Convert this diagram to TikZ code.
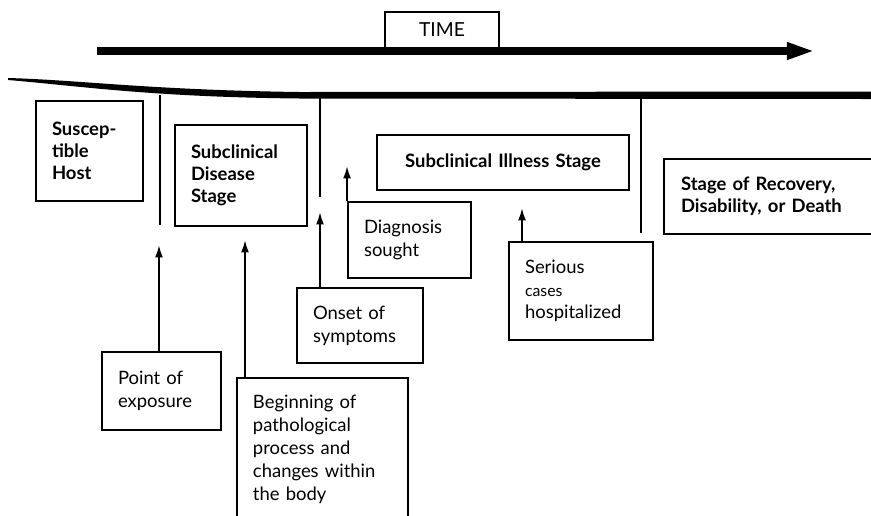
\documentclass[tikz,border=0pt]{standalone}
\usepackage{fontspec}
\setmainfont{Lato}
\usepackage{tikz}
\usetikzlibrary{arrows.meta,positioning}

\tikzset{
  stagebox/.style={draw, line width=1.2pt, align=left, inner xsep=0.32cm,
    font=\bfseries\fontsize{10.5}{12.5}\selectfont},
  eventbox/.style={draw, line width=1.1pt, align=left, inner xsep=0.32cm,
    font=\fontsize{10.5}{13}\selectfont},
  uparrow/.style={line width=1.1pt, -{Latex[length=7pt,width=4.5pt]}},
  divider/.style={line width=1.1pt}
}

\begin{document}
\begin{tikzpicture}[x=0.02cm, y=-0.02cm]
  \useasboundingbox (0,0) rectangle (871,515);

  % Time arrow and its label
  \coordinate (tstart) at (97,51);
  \coordinate (tend) at (815,51);
  \draw[line width=4.5pt, -{Triangle[length=16pt,width=9pt]}] (tstart) -- (tend);
  \node (time) at (442,29.5) [minimum width=2.28cm, minimum height=0.7cm,
    font=\fontsize{11}{13}\selectfont] {TIME};
  \draw[line width=1.1pt] (time.south west) -- (time.north west)
    -- (time.north east) -- (time.south east);

  % Stage line (thin on the left)
  \fill (8,78) .. controls (80,80) and (150,90) .. (300,92) -- (871,91.5)
    -- (871,99) -- (300,98.5) .. controls (150,97) and (80,86) .. (8,80) -- cycle;

  % Stage dividers
  \coordinate (d1) at (160,95);
  \coordinate (d2) at (320,95);
  \coordinate (d3) at (641,95);
  \draw[divider] (d1) -- (160,225);
  \draw[divider] (d2) -- (320,197);
  \draw[divider] (d3) -- (641,233);

  % Stages
  \node[stagebox, text width=1.5cm, minimum height=2.0cm] (host) at (89.5,151)
    {Suscep-\\tible\\Host};
  \node[stagebox, text width=2.0cm, minimum height=2.02cm] (disease) at (241,175.5)
    {Subclinical\\Disease\\Stage};
  \node[stagebox, align=center, text width=4.4cm, minimum height=1.1cm] (illness) at (503,162.5)
    {Subclinical Illness Stage};
  \node[stagebox, anchor=west, inner xsep=0.34cm, text width=4.0cm, minimum height=1.5cm]
    (recovery) at (663,196.5) {Stage of Recovery,\\Disability, or Death};

  % Events
  \node[eventbox, text width=1.74cm, minimum height=1.56cm] (exposure) at (161.5,391)
    {Point of\\exposure};
  \node[eventbox, anchor=north west, inner ysep=0.35cm, text width=2.78cm] (beginning)
    at (236,377) {Beginning of\\pathological\\process and\\changes within\\the body};
  \node[eventbox, text width=1.88cm, minimum height=1.5cm] (onset) at (360,325.5)
    {Onset of\\symptoms};
  \node[eventbox, text width=1.82cm, minimum height=1.52cm] (diagnosis) at (409.5,240)
    {Diagnosis\\sought};
  \node[eventbox, text width=2.24cm, minimum height=1.96cm] (serious) at (581,291)
    {Serious\\{\small cases}\\hospitalized};

  % Arrows up to the time line
  \coordinate (t1) at (159,245);
  \coordinate (t2) at (245,240);
  \coordinate (t3) at (320,212);
  \coordinate (t5) at (522,208);
  \draw[uparrow] (t1 |- exposure.north) -- (t1);
  \draw[uparrow] (t2 |- beginning.north) -- (t2);
  \draw[uparrow] (t3 |- onset.north) -- (t3);
  \draw[uparrow] (diagnosis.north west) -- ++(0,-35);
  \draw[uparrow] (t5 |- serious.north) -- (t5);
\end{tikzpicture}
\end{document}
